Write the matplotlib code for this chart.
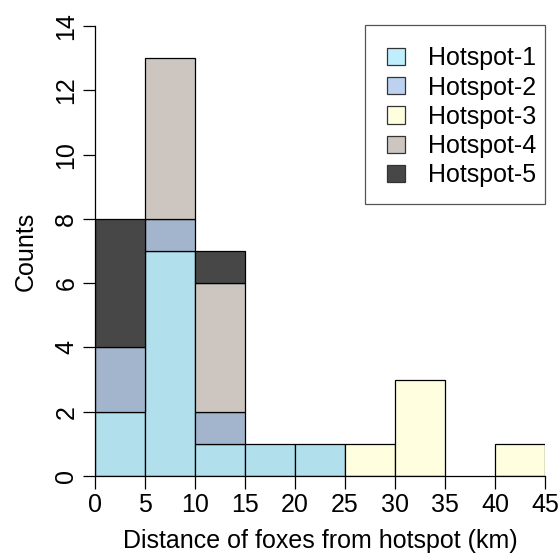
import matplotlib.pyplot as plt
from matplotlib.patches import Patch, Rectangle
import numpy as np

plt.rcParams['font.family'] = ['Liberation Sans', 'DejaVu Sans']

# histogram bins (km) and counts per hotspot
bin_edges = [0, 5, 10, 15, 20, 25, 30, 35, 40, 45]
hotspot1 = [2, 7, 1, 1, 1, 0, 0, 0, 0]
hotspot2 = [2, 1, 1, 0, 0, 0, 0, 0, 0]
hotspot3 = [0, 0, 0, 0, 0, 1, 3, 0, 1]
hotspot4 = [0, 5, 4, 0, 0, 0, 0, 0, 0]
hotspot5 = [4, 0, 1, 0, 0, 0, 0, 0, 0]
labels = ['Hotspot-1', 'Hotspot-2', 'Hotspot-3', 'Hotspot-4', 'Hotspot-5']

bar_cols = ['#b1dfec', '#a3b5cc', '#ffffe0', '#cdc5bf', '#474747']
leg_cols = ['#bfeffc', '#bcd2f0', '#ffffe0', '#cdc5bf', '#474747']

fig = plt.figure(figsize=(5.58, 5.56), dpi=100)
ax = fig.add_axes([95/558, 80/556, 450/558, 450/556])

left = np.array(bin_edges[:-1])
width = np.diff(bin_edges)
bottom = np.zeros(len(left))
for vals, col in zip([hotspot1, hotspot2, hotspot3, hotspot4, hotspot5], bar_cols):
    v = np.array(vals, dtype=float)
    m = v > 0
    ax.bar(left[m], v[m], width=width[m], bottom=bottom[m], align='edge',
           color=col, edgecolor='black', linewidth=0.9)
    bottom += v

ax.set_xlim(0, 45)
ax.set_ylim(0, 14)
ax.set_xticks(range(0, 46, 5))
ax.set_yticks(range(0, 15, 2))
for s in ['top', 'right']:
    ax.spines[s].set_visible(False)
for s in ['left', 'bottom']:
    ax.spines[s].set_linewidth(0.9)
ax.tick_params(direction='out', length=9, width=0.9, labelsize=18, pad=3)
for t in ax.get_yticklabels():
    t.set_rotation(90)
    t.set_va('center')

ax.set_xlabel('Distance of foxes from hotspot (km)', fontsize=18, labelpad=9)
ax.set_ylabel('Counts', fontsize=18, labelpad=12)

# legend frame drawn separately (R style padding), entries placed inside
frame = Rectangle((0.6, 0.605), 0.4, 0.397, transform=ax.transAxes,
                  facecolor='white', edgecolor='#555555', linewidth=0.9,
                  clip_on=False, zorder=4)
ax.add_patch(frame)

handles = [Patch(facecolor=c, edgecolor='#333333', linewidth=0.9) for c in leg_cols]
leg = ax.legend(handles, labels, loc='upper left', bbox_to_anchor=(0.649, 0.955),
                fontsize=18, frameon=False, borderpad=0, borderaxespad=0,
                handlelength=0.72, handleheight=0.68, handletextpad=0.92,
                labelspacing=0.21)
leg.set_zorder(5)

fig.savefig('out.png', dpi=100)
